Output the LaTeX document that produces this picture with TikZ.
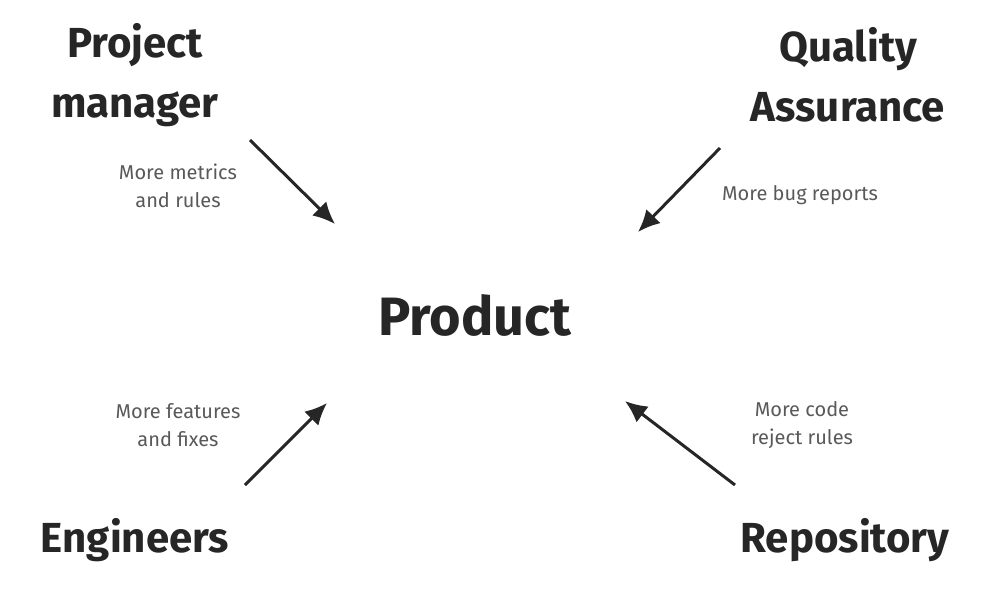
\documentclass[tikz,border=0pt]{standalone}
\usepackage{fontspec}
\setmainfont{Fira Sans}
\usetikzlibrary{positioning}
\usetikzlibrary{arrows.meta}
\tikzset{
  role/.style={font=\fontsize{21}{30}\selectfont\bfseries, align=center, text=black!85},
  note/.style={font=\fontsize{10}{14}\selectfont, align=center, text=black!65},
  push/.style={line width=1.5pt, -{Latex[length=11pt,width=10pt]}, black!85}
}
\begin{document}
\begin{tikzpicture}[x=0.5pt,y=-0.5pt]
        \useasboundingbox (0,0) rectangle (1007,590);
        \node[role, font=\fontsize{27}{30}\selectfont\bfseries] (product) at (475,315) {Product};

        \node[role] (pm) at (135,75) {Project\\manager};
        \node[role] (qa) at (848,75) {Quality\\Assurance};
        \node[role] (eng) at (135,540) {Engineers};
        \node[role] (repo) at (845,540) {Repository};

        \node[note] (n_pm) at (178,186) {More metrics\\and rules};
        \node[note] (n_qa) at (800,195) {More bug reports};
        \node[note] (n_eng) at (178,425) {More features\\and fixes};
        \node[note] (n_repo) at (802,425) {More code\\reject rules};

        \coordinate (pm_a) at (250,140);
        \coordinate (pm_b) at (335,224);
        \coordinate (qa_a) at (720,148);
        \coordinate (qa_b) at (638,232);
        \coordinate (eng_a) at (245,485);
        \coordinate (eng_b) at (327,403);
        \coordinate (repo_a) at (735,485);
        \coordinate (repo_b) at (625,401);

        \draw[push] (pm_a) -- (pm_b);
        \draw[push] (qa_a) -- (qa_b);
        \draw[push] (eng_a) -- (eng_b);
        \draw[push] (repo_a) -- (repo_b);
\end{tikzpicture}
\end{document}
